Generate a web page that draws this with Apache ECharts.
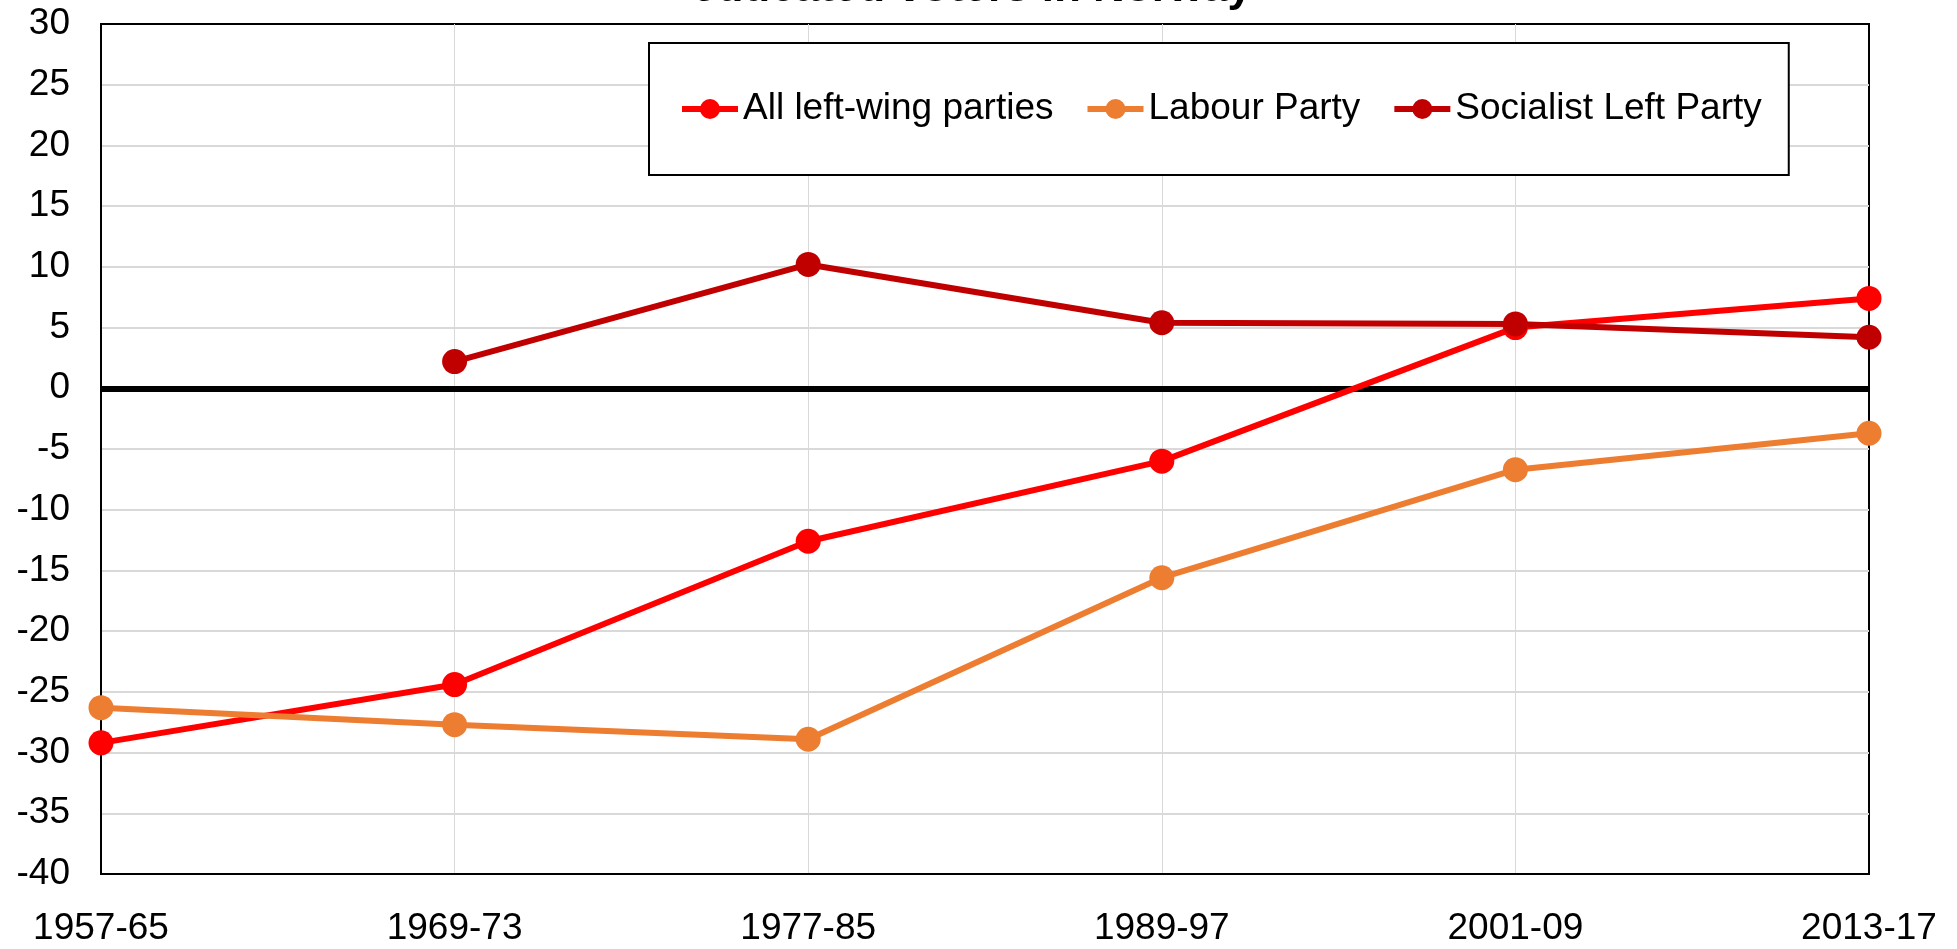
<!DOCTYPE html>
<html>
<head>
<meta charset="utf-8">
<script src="https://cdn.jsdelivr.net/npm/echarts@6/dist/echarts.min.js"></script>
<style>
html,body{margin:0;padding:0;background:#fff;}
#chart{width:1957px;height:949px;}
</style>
</head>
<body>
<div id="chart"></div>
<script>
const categories = ['1957-65', '1969-73', '1977-85', '1989-97', '2001-09', '2013-17'];
const allLeft = [-29.2, -24.4, -12.6, -6.0, 5.0, 7.4];
const labour = [-26.3, -27.7, -28.9, -15.6, -6.7, -3.7];
const socialistLeft = [null, 2.2, 10.2, 5.4, 5.3, 4.2];
const seriesNames = ['All left-wing parties', 'Labour Party', 'Socialist Left Party'];
const seriesColors = ['#FF0000', '#ED7D31', '#C00000'];
const titleText = 'educated voters in Norway';

const FONT = '"Liberation Sans", Arial, sans-serif';
const chart = echarts.init(document.getElementById('chart'), null, {renderer: 'canvas'});

function mkSeries(name, data, color, extra) {
  return Object.assign({
    name: name,
    type: 'line',
    data: data,
    connectNulls: false,
    symbol: 'circle',
    symbolSize: 25,
    showSymbol: true,
    lineStyle: {color: color, width: 6},
    itemStyle: {color: color},
    emphasis: {disabled: true},
    z: 3
  }, extra || {});
}

chart.setOption({
  animation: false,
  backgroundColor: '#fff',
  graphic: [{
    type: 'text',
    x: 972,
    y: 11,
    style: {
      text: titleText,
      fontFamily: FONT,
      fontWeight: 'bold',
      fontSize: 44,
      fill: '#000',
      align: 'center',
      verticalAlign: 'bottom'
    },
    z: 10
  }],
  grid: {
    left: 101, right: 88, top: 24, bottom: 75,
    show: true, borderColor: '#000', borderWidth: 2,
    containLabel: false
  },
  legend: {
    data: seriesNames,
    left: 649,
    top: 43,
    orient: 'horizontal',
    itemWidth: 56,
    itemHeight: 25,
    itemGap: 31,
    padding: [46, 27, 46, 30],
    borderColor: '#000',
    borderWidth: 2,
    backgroundColor: '#fff',
    lineStyle: {width: 6},
    textStyle: {fontFamily: FONT, fontSize: 37, color: '#000', lineHeight: 40}
  },
  xAxis: {
    type: 'category',
    data: categories,
    boundaryGap: false,
    axisLine: {show: true, onZero: false, lineStyle: {color: '#000', width: 2}},
    axisTick: {show: false},
    axisLabel: {fontFamily: FONT, fontSize: 37, color: '#000', margin: 36, interval: 0},
    splitLine: {show: true, showMinLine: false, showMaxLine: false, lineStyle: {color: '#D9D9D9', width: 1}}
  },
  yAxis: {
    type: 'value',
    min: -40,
    max: 30,
    interval: 5,
    axisLine: {show: true, onZero: false, lineStyle: {color: '#000', width: 2}},
    axisTick: {show: false},
    axisLabel: {fontFamily: FONT, fontSize: 37, color: '#000', margin: 31},
    splitLine: {show: true, showMinLine: false, showMaxLine: false, lineStyle: {color: '#D9D9D9', width: 2}}
  },
  series: [
    mkSeries(seriesNames[0], allLeft, seriesColors[0], {
      markLine: {
        silent: true,
        symbol: ['none', 'none'],
        label: {show: false},
        lineStyle: {color: '#000', width: 6, type: 'solid'},
        emphasis: {disabled: true},
        data: [{yAxis: 0}],
        z: 2
      }
    }),
    mkSeries(seriesNames[1], labour, seriesColors[1]),
    mkSeries(seriesNames[2], socialistLeft, seriesColors[2])
  ]
});
</script>
</body>
</html>
